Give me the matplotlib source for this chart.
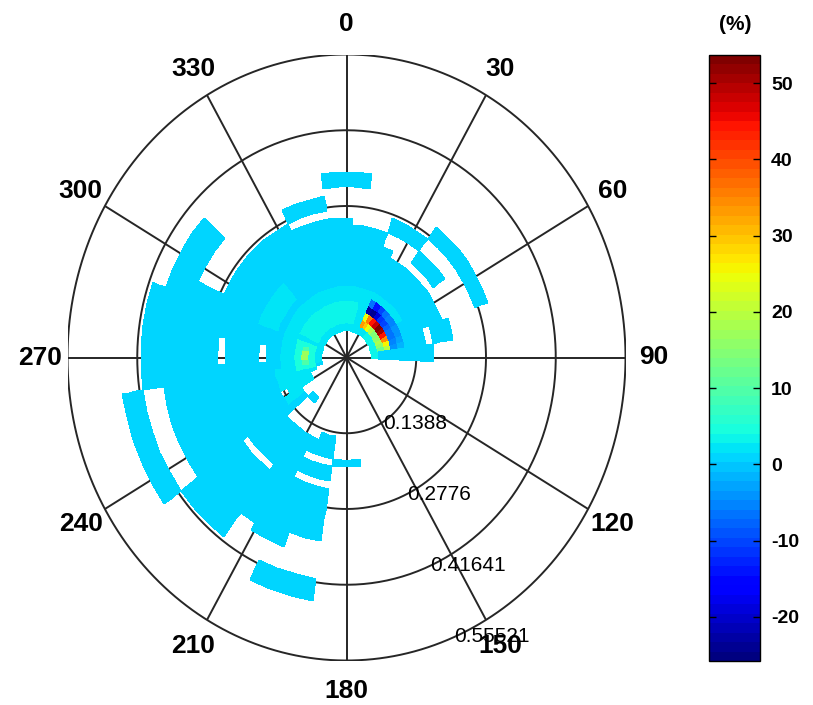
import numpy as np
import matplotlib
matplotlib.use("Agg")
import matplotlib.pyplot as plt

plt.rcParams["font.family"] = ["Liberation Sans", "DejaVu Sans"]
plt.rcParams["axes.unicode_minus"] = False

# ─── axes / scale data ────────────────────────────────────────────────────────
R_MAX = 0.55521
RING_VALUES = [0.1388, 0.2776, 0.41641, 0.55521]
RING_LABELS = ["0.1388", "0.2776", "0.41641", "0.55521"]
ANGLE_TICKS = list(range(0, 360, 30))
CBAR_TICKS = [-20, -10, 0, 10, 20, 30, 40, 50]
C_MIN, C_MAX = -25.8, 53.7

N_SECTORS = 64                  # direction bins (5.625 deg, centred on north)
DR = R_MAX / 40                 # radial bin width
RING_FIRST, RING_LAST = 4, 32   # first / last radial bin index

# ─── field, as patches: (bearing from, bearing to, r from, r to, value) ──────
# bearing is clockwise from north; cells are taken by their centres
BODY = [
    (262, 290, 0.05, 0.41, 1.0),
    (290, 295, 0.05, 0.38, 1.0),
    (295, 334, 0.05, 0.265, 1.0),
    (334, 363, 0.05, 0.255, 1.0),
    (3, 20, 0.05, 0.24, 1.0),
    (20, 25, 0.05, 0.21, 1.0),
    (25, 70, 0.05, 0.20, 1.0),
    (70, 81, 0.05, 0.155, 1.0),
    (81, 93, 0.05, 0.17, 1.0),
    (255, 262, 0.05, 0.37, 1.0),
    (250, 255, 0.065, 0.37, 1.0),
    (239, 250, 0.08, 0.37, 1.0),
    (228, 239, 0.10, 0.37, 1.0),
    (216, 234, 0.16, 0.41, 1.0),
    (211, 216, 0.16, 0.36, 1.0),
    (199, 211, 0.16, 0.37, 1.0),
    (188, 199, 0.15, 0.34, 1.0),
]
TILES = [
    (234, 260, 0.41, 0.46, 1.0),
    (295, 312, 0.32, 0.38, 1.0),
    (334, 350, 0.27, 0.30, 1.0),
    (350, 370, 0.31, 0.34, 1.0),
    (20, 37, 0.245, 0.27, 1.0),
    (36, 54, 0.215, 0.24, 1.0),
    (36, 70, 0.27, 0.30, 1.0),
    (70, 81, 0.175, 0.215, 1.0),
    (171, 188, 0.19, 0.20, 1.0),
    (188, 206, 0.41, 0.46, 1.0),
    (216, 228, 0.095, 0.11, 1.0),
]
BLANKS = [
    (267, 279, 0.245, 0.255),
    (267, 279, 0.16, 0.17),
    (216, 234, 0.245, 0.255),
    (188, 206, 0.19, 0.20),
    (188, 206, 0.23, 0.24),
    (239, 245, 0.13, 0.145),
]
SHADES = [
    (262, 420, 0.05, 0.13, 2.0),
    (298, 375, 0.065, 0.11, 3.0),
    (310, 345, 0.09, 0.105, 4.0),
    (287, 320, 0.14, 0.19, 2.0),
    (234, 262, 0.06, 0.15, 2.0),
    (258, 287, 0.065, 0.10, 5.0),
    (264, 282, 0.075, 0.095, 9.0),
    (266, 276, 0.08, 0.09, 17.0),
    (40, 93, 0.05, 0.065, 4.0),
]
# hot spot, sectors 5..14, radial bins 5..8
HOT_SECTORS = [5, 6, 7, 8, 9, 10, 11, 12, 13, 14]
HOT_RING5 = [33, 30, 24, 18, 14, 14, 16, 18, 16, 12]
HOT_RING6 = [24, 36, 44, 48, 53, 51, 45, 35, 26, 20]
HOT_RING7 = [-23, -24, -19, -12, -10, -8, -7, -6, -5, -4]
HOT_RING8 = [-6, -14, -10, -7, -5, -5, -4, -4, -3, -1]

# ─── grid ─────────────────────────────────────────────────────────────────────
sector_w = 360 / N_SECTORS
b_cent = np.arange(N_SECTORS) * sector_w
b_edge = (np.arange(N_SECTORS + 1) - 0.5) * sector_w
k_idx = np.arange(RING_FIRST, RING_LAST + 1)
r_cent = k_idx * DR
r_edge = (np.arange(RING_FIRST, RING_LAST + 2) - 0.5) * DR

BB, RR = np.meshgrid(b_cent, r_cent)
field = np.full(BB.shape, np.nan)


def cells(b0, b1, r0, r1):
    return ((BB - b0) % 360 < (b1 - b0)) & (RR >= r0) & (RR < r1)


for b0, b1, r0, r1, v in BODY + TILES:
    field[cells(b0, b1, r0, r1)] = v
for b0, b1, r0, r1 in BLANKS:
    field[cells(b0, b1, r0, r1)] = np.nan
for b0, b1, r0, r1, v in SHADES:
    m = cells(b0, b1, r0, r1) & ~np.isnan(field)
    field[m] = v
for k, ring in zip([5, 6, 7, 8], [HOT_RING5, HOT_RING6, HOT_RING7, HOT_RING8]):
    field[k - RING_FIRST, HOT_SECTORS] = ring

# ─── figure ───────────────────────────────────────────────────────────────────
fig = plt.figure(figsize=(8.13, 7.05), dpi=100)
ax = fig.add_axes([67.5 / 813, 44.5 / 705, 558 / 813, 606 / 705])
ax.set_xlim(-R_MAX, R_MAX)
ax.set_ylim(-R_MAX, R_MAX)
ax.axis("off")

grid_kw = dict(color="#262626", lw=1.4, zorder=1, solid_capstyle="butt")
t = np.linspace(0, 2 * np.pi, 500)
for rv in RING_VALUES:
    ax.plot(rv * np.sin(t), rv * np.cos(t), **grid_kw)
for a in range(0, 180, 30):
    s, c = np.sin(np.radians(a)), np.cos(np.radians(a))
    ax.plot([-R_MAX * s, R_MAX * s], [-R_MAX * c, R_MAX * c], **grid_kw)

be = np.radians(b_edge)
X = r_edge[:, None] * np.sin(be[None, :])
Y = r_edge[:, None] * np.cos(be[None, :])
cmap = plt.get_cmap("jet", 64)
mesh = ax.pcolormesh(X, Y, np.ma.masked_invalid(field), cmap=cmap,
                     vmin=C_MIN, vmax=C_MAX, shading="flat",
                     edgecolors="none", antialiased=False, zorder=2)

for a in ANGLE_TICKS:
    ar = np.radians(a)
    ax.text(1.1 * R_MAX * np.sin(ar), 1.1 * R_MAX * np.cos(ar), str(a),
            ha="center", va="center", fontsize=19, fontweight="bold", zorder=4)

lab_b = np.radians(160)
for rv, lab in zip(RING_VALUES, RING_LABELS):
    ax.annotate(lab, (rv * np.sin(lab_b), rv * np.cos(lab_b)),
                xytext=(9, 4), textcoords="offset points",
                ha="left", va="center", fontsize=15, zorder=4)

# ─── colour bar ───────────────────────────────────────────────────────────────
cax = fig.add_axes([709 / 813, 44 / 705, 51 / 813, 606 / 705])
cb = fig.colorbar(mesh, cax=cax)
cb.set_ticks(CBAR_TICKS)
cb.outline.set_linewidth(1.0)
cax.tick_params(direction="in", left=True, right=True, length=5, width=1,
                labelsize=14, pad=8)
for tl in cax.get_yticklabels():
    tl.set_fontweight("bold")
fig.text(735 / 813, 1 - 24 / 705, "(%)", ha="center", va="center",
         fontsize=15, fontweight="bold")

fig.savefig("out.png", dpi=100)
